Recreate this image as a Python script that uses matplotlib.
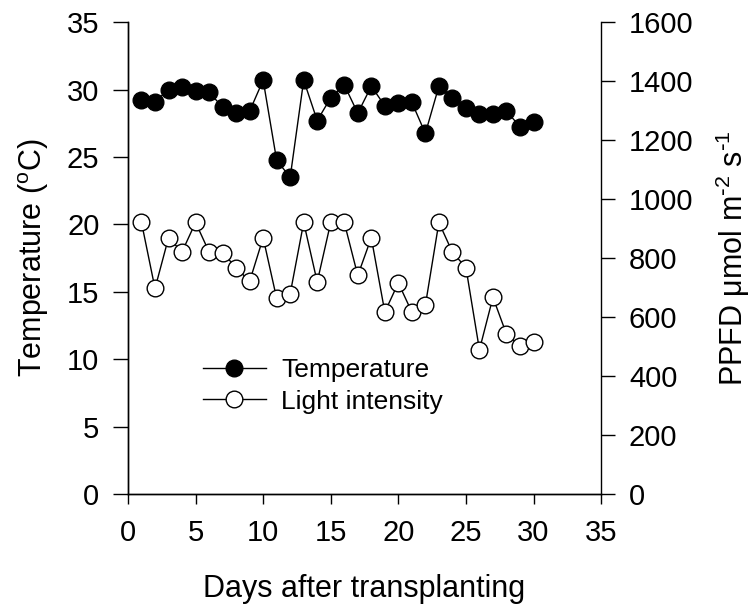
import matplotlib
matplotlib.use("Agg")
import matplotlib.pyplot as plt

plt.rcParams['font.family'] = ['Liberation Sans', 'DejaVu Sans']

# data
days = list(range(1, 31))
temperature = [29.2, 29.1, 30.0, 30.2, 29.9, 29.8, 28.7, 28.25, 28.4, 30.7,
               24.75, 23.5, 30.7, 27.7, 29.4, 30.35, 28.25, 30.25, 28.8, 29.0,
               29.05, 26.75, 30.25, 29.4, 28.6, 28.2, 28.2, 28.4, 27.25, 27.6]
ppfd = [921, 697, 869, 821, 921, 821, 818, 768, 721, 869,
        663, 679, 921, 719, 921, 921, 741, 869, 617, 716,
        617, 640, 921, 820, 768, 489, 667, 542, 503, 514]

xticks = [0, 5, 10, 15, 20, 25, 30, 35]
yticks_left = [0, 5, 10, 15, 20, 25, 30, 35]
yticks_right = [0, 200, 400, 600, 800, 1000, 1200, 1400, 1600]

fig = plt.figure(figsize=(7.51, 6.08), dpi=100)
ax = fig.add_axes([0.1704, 0.1875, 0.630, 0.776])
ax2 = ax.twinx()

l1, = ax.plot(days, temperature, color='black', lw=1, marker='o', ms=12,
              mfc='black', mec='black', mew=1, label='Temperature')
l2, = ax2.plot(days, ppfd, color='black', lw=1, marker='o', ms=12,
               mfc='white', mec='black', mew=1, label='Light intensity')

ax.set_xlim(0, 35)
ax.set_ylim(0, 35)
ax2.set_ylim(0, 1600)
ax.set_xticks(xticks)
ax.set_yticks(yticks_left)
ax2.set_yticks(yticks_right)

for a in (ax, ax2):
    a.spines['top'].set_visible(False)
    for s in a.spines.values():
        s.set_linewidth(1)
ax.spines['right'].set_visible(False)

ax.tick_params(axis='x', direction='out', length=7.2, width=1, pad=11, labelsize=21)
ax.tick_params(axis='y', direction='out', length=10.5, width=1, pad=10, labelsize=21)
ax2.tick_params(axis='y', direction='out', length=10, width=1, pad=10, labelsize=21)

ax.set_xlabel('Days after transplanting', fontsize=22)
ax.set_ylabel('Temperature ($\\mathregular{^o}$C)', fontsize=22)
ax2.set_ylabel('PPFD \u03bcmol m$\\mathregular{^{\\text{-}2}}$ s$\\mathregular{^{\\text{-}1}}$',
               fontsize=22)
ax.xaxis.set_label_coords(0.5, -0.17)
ax.yaxis.set_label_coords(-0.163, 0.5)
ax2.yaxis.set_label_coords(1.239, 0.5)

ax2.legend(handles=[l1, l2], loc='upper left',
           bbox_to_anchor=(203 / 751, 1 - 358 / 608),
           bbox_transform=fig.transFigure, frameon=False, fontsize=19,
           handlelength=2.37, handletextpad=0.6, labelspacing=0.29,
           borderpad=0, borderaxespad=0)

fig.savefig('out.png', dpi=100)
